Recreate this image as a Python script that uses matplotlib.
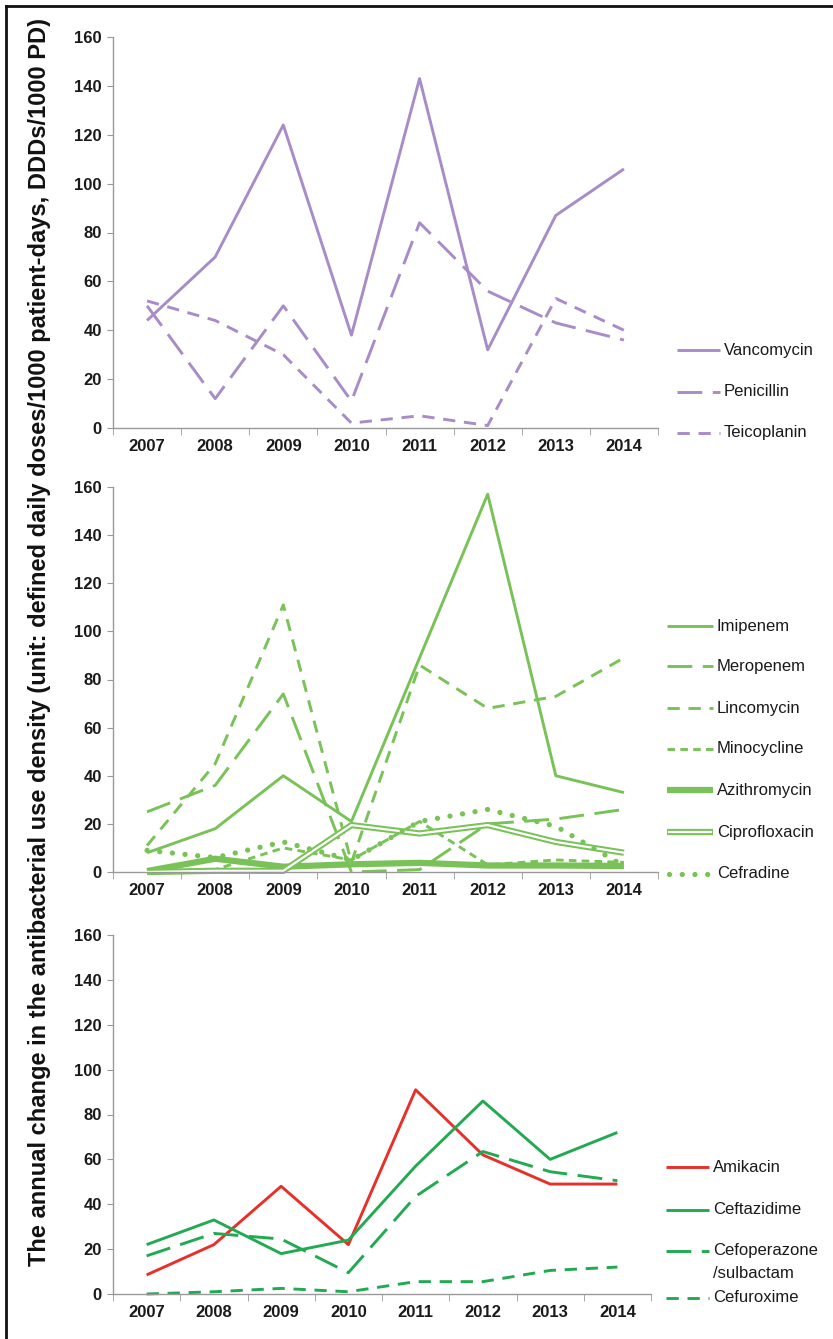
import numpy as np
import matplotlib
matplotlib.use("Agg")
import matplotlib.pyplot as plt
from matplotlib.lines import Line2D

plt.rcParams['font.family'] = ['Liberation Sans', 'DejaVu Sans']

years = ['2007', '2008', '2009', '2010', '2011', '2012', '2013', '2014']

# top panel
vancomycin = [44, 70, 124, 38, 143, 32, 87, 106]
penicillin = [50, 12, 50, 11, 84, 56, 43, 36]
teicoplanin = [52, 44, 30, 2, 5, 1, 53, 40]

# middle panel
imipenem = [8, 18, 40, 21, 89, 157, 40, 33]
meropenem = [25, 36, 74, 0, 1, 20, 22, 26]
lincomycin = [11, 45, 111, 4, 86, 68, 73, 89]
minocycline = [0, 1, 10, 5, 21, 3, 5, 4]
azithromycin = [0.4, 5.5, 2.2, 3.2, 3.8, 2.7, 2.7, 2.5]
ciprofloxacin = [0, 0.5, 0.5, 19.5, 16, 19.5, 12.5, 8]
cefradine = [9, 6, 12.5, 5, 21, 26, 19, 2.5]

# bottom panel
amikacin = [8.5, 22, 48, 22, 91, 62, 49, 49]
ceftazidime = [22, 33, 18, 24, 57, 86, 60, 72]
cefoperazone = [17, 27, 24.5, 9.5, 43.5, 63.5, 54.5, 50.5]
cefuroxime = [0, 1, 2.5, 1, 5.5, 5.5, 10.5, 12]

purple = '#A88CC8'
lgreen = '#78C257'
dgreen = '#22AA52'
red = '#E8302A'

W, H = 833, 1339
fig = plt.figure(figsize=(W / 100, H / 100), dpi=100)

def px_axes(x0, x1, ytop, ybot):
    return fig.add_axes([x0 / W, 1 - ybot / H, (x1 - x0) / W, (ybot - ytop) / H])

LW = 2.1
LONG = (8.5, 3.6)
DASH = (4.2, 3.0)
SHORT = (2.6, 1.8)
DOTS = (0.01, 2.4)

def style_axes(ax):
    x = np.arange(len(years))
    ax.set_xlim(-0.5, len(years) - 0.5)
    ax.set_ylim(0, 160)
    ax.set_yticks(range(0, 161, 20))
    ax.set_xticks(x)
    ax.set_xticklabels(years)
    ax.set_xticks(np.arange(-0.5, len(years), 1), minor=True)
    ax.tick_params(axis='x', which='major', length=0, pad=8, labelsize=12)
    ax.tick_params(axis='x', which='minor', length=5, color='#999999', direction='out')
    ax.tick_params(axis='y', length=4, color='#999999', pad=4, labelsize=12)
    for lab in ax.get_xticklabels() + ax.get_yticklabels():
        lab.set_fontweight('bold')
        lab.set_color('#1a1a1a')
    for s in ['top', 'right']:
        ax.spines[s].set_visible(False)
    for s in ['left', 'bottom']:
        ax.spines[s].set_color('#999999')
        ax.spines[s].set_linewidth(1)
    ax.patch.set_alpha(0)

def line(ax, y, color, lw=LW, dashes=None, cap='butt'):
    x = np.arange(len(y))
    l, = ax.plot(x, y, color=color, lw=lw, solid_capstyle=cap, dash_capstyle=cap,
                 clip_on=False)
    if dashes is not None:
        l.set_dashes(dashes)
    return l

def legend_entry(y, x0, x1, label, color, lw=LW, dashes=None, cap='butt', double=False):
    ln = Line2D([x0 / W, x1 / W], [1 - y / H, 1 - y / H], transform=fig.transFigure,
                color=color, lw=lw, solid_capstyle=cap, dash_capstyle=cap)
    if dashes is not None:
        ln.set_dashes(dashes)
    fig.add_artist(ln)
    if double:
        fig.add_artist(Line2D([x0 / W + 0.002, x1 / W - 0.002], [1 - y / H, 1 - y / H],
                              transform=fig.transFigure, color='white', lw=1.6))
    fig.text((x1 + 4) / W, 1 - y / H, label, fontsize=12, va='center', ha='left',
             color='#1a1a1a', linespacing=1.0)

# ---- top panel
ax1 = px_axes(113, 658, 37, 428)
style_axes(ax1)
line(ax1, vancomycin, purple)
line(ax1, penicillin, purple, dashes=LONG)
line(ax1, teicoplanin, purple, dashes=DASH)

legend_entry(350, 677, 720, 'Vancomycin', purple)
legend_entry(392, 677, 720, 'Penicillin', purple, dashes=LONG)
legend_entry(433, 677, 720, 'Teicoplanin', purple, dashes=DASH)

# ---- middle panel
ax2 = px_axes(113, 658, 487, 872)
style_axes(ax2)
line(ax2, imipenem, lgreen)
line(ax2, meropenem, lgreen, dashes=LONG)
line(ax2, lincomycin, lgreen, dashes=DASH)
line(ax2, minocycline, lgreen, dashes=SHORT)
line(ax2, azithromycin, lgreen, lw=4.5)
line(ax2, ciprofloxacin, lgreen, lw=4.5)
line(ax2, ciprofloxacin, 'white', lw=1.6)
line(ax2, cefradine, lgreen, lw=3.8, dashes=DOTS, cap='round')

legend_entry(626, 667, 713, 'Imipenem', lgreen)
legend_entry(666, 667, 713, 'Meropenem', lgreen, dashes=LONG)
legend_entry(708, 667, 713, 'Lincomycin', lgreen, dashes=DASH)
legend_entry(749, 667, 713, 'Minocycline', lgreen, dashes=SHORT)
legend_entry(790, 667, 713, 'Azithromycin', lgreen, lw=4.5)
legend_entry(832, 667, 713, 'Ciprofloxacin', lgreen, lw=4.5, double=True)
legend_entry(874, 669, 713, 'Cefradine', lgreen, lw=3.8, dashes=DOTS, cap='round')

# ---- bottom panel
ax3 = px_axes(113, 651, 935, 1294)
style_axes(ax3)
line(ax3, amikacin, red)
line(ax3, ceftazidime, dgreen)
line(ax3, cefoperazone, dgreen, dashes=LONG)
line(ax3, cefuroxime, dgreen, dashes=DASH)

legend_entry(1167, 666, 709, 'Amikacin', red)
legend_entry(1210, 666, 709, 'Ceftazidime', dgreen)
legend_entry(1251, 666, 709, 'Cefoperazone', dgreen, dashes=LONG)
fig.text(713 / W, 1 - 1273 / H, '/sulbactam', fontsize=12, va='center', ha='left', color='#1a1a1a')
legend_entry(1298, 666, 709, 'Cefuroxime', dgreen, dashes=DASH)

# shared y label
fig.text(40 / W, 1 - 642 / H,
         'The annual change in the antibacterial use density (unit: defined daily doses/1000 patient-days, DDDs/1000 PD)',
         rotation=90, fontsize=17, fontweight='bold', ha='center', va='center', color='#111111')

# frame lines (top and left)
fig.add_artist(Line2D([6 / W, 1], [1 - 6 / H, 1 - 6 / H], transform=fig.transFigure, color='#111111', lw=2))
fig.add_artist(Line2D([6 / W, 6 / W], [0, 1 - 6 / H], transform=fig.transFigure, color='#111111', lw=2))

fig.savefig('out.png', dpi=100, facecolor='white')
